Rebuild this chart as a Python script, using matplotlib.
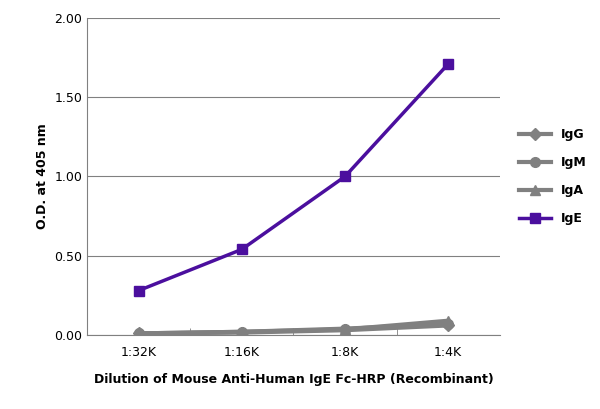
import matplotlib
matplotlib.use('Agg')
from matplotlib import pyplot as plt

dilutions = ['1:32K', '1:16K', '1:8K', '1:4K']
igg = [0.01, 0.015, 0.03, 0.06]
igm = [0.01, 0.02, 0.04, 0.07]
iga = [0.01, 0.02, 0.035, 0.09]
ige = [0.28, 0.54, 1.00, 1.71]

fig = plt.figure(figsize=(6, 4.09), dpi=100)
ax = fig.add_axes([0.145, 0.181, 0.688, 0.775])
x = range(len(dilutions))
gray = '#808080'
ax.plot(x, igg, color=gray, marker='D', ms=6, lw=3, label='IgG')
ax.plot(x, igm, color=gray, marker='o', ms=7, lw=3, label='IgM')
ax.plot(x, iga, color=gray, marker='^', ms=7, lw=3, label='IgA')
ax.plot(x, ige, color='#4b0f9e', marker='s', ms=7, lw=2.5, label='IgE')

ax.set_xlim(-0.5, 3.5)
ax.set_ylim(0, 2)
ax.set_yticks([0, 0.5, 1, 1.5, 2])
ax.set_yticklabels(['0.00', '0.50', '1.00', '1.50', '2.00'])
ax.set_xticks(list(x))
ax.set_xticklabels(dilutions)
ax.set_xticks([0.5, 1.5, 2.5], minor=True)
ax.tick_params(axis='x', which='major', length=0, labelsize=9, pad=8)
ax.tick_params(axis='x', which='minor', length=5, direction='in', color=gray)
ax.tick_params(axis='y', length=0, labelsize=9)
ax.grid(axis='y', color=gray, lw=0.8)
ax.set_axisbelow(True)
for s in ['top', 'right']:
    ax.spines[s].set_visible(False)
ax.spines['left'].set_color(gray)
ax.spines['bottom'].set_color(gray)
ax.set_ylabel('O.D. at 405 nm', fontweight='bold', fontsize=9)
ax.set_xlabel('Dilution of Mouse Anti-Human IgE Fc-HRP (Recombinant)', fontweight='bold', fontsize=9, labelpad=10)
leg = ax.legend(loc='center left', bbox_to_anchor=(1.02, 0.5), frameon=False,
                prop={'weight': 'bold', 'size': 9}, labelspacing=1.2, handlelength=2.5)
fig.savefig('out.png', dpi=100)
